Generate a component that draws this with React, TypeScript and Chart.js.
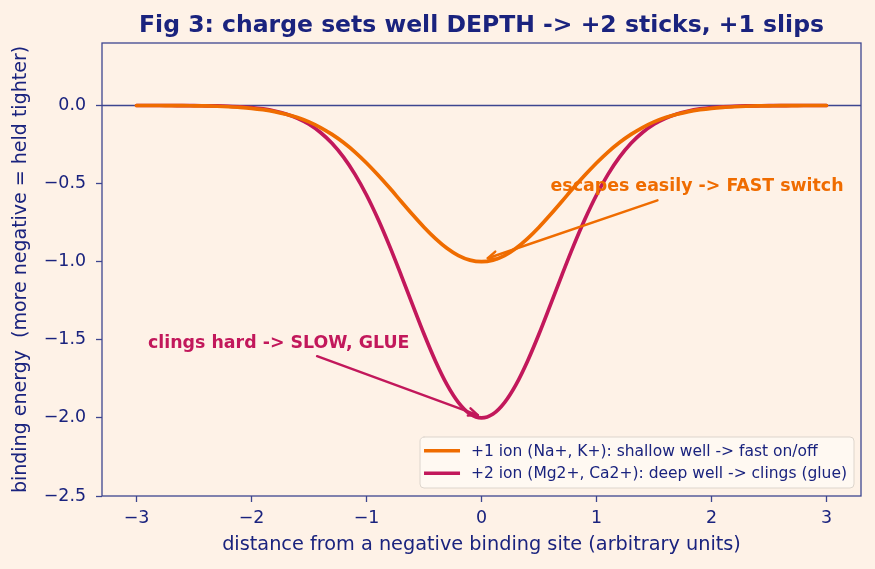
import React, { useEffect, useRef } from "react";
import { Chart, registerables } from "chart.js";

Chart.register(...registerables);

// ---- data ----
const xPositions = [
  -3.0, -2.9, -2.8, -2.7, -2.6, -2.5, -2.4, -2.3, -2.2, -2.1, -2.0, -1.9, -1.8, -1.7, -1.6, -1.5,
  -1.4, -1.3, -1.2, -1.1, -1.0, -0.9, -0.8, -0.7, -0.6, -0.5, -0.4, -0.3, -0.2, -0.1, 0.0,
  0.1, 0.2, 0.3, 0.4, 0.5, 0.6, 0.7, 0.8, 0.9, 1.0, 1.1, 1.2, 1.3, 1.4, 1.5,
  1.6, 1.7, 1.8, 1.9, 2.0, 2.1, 2.2, 2.3, 2.4, 2.5, 2.6, 2.7, 2.8, 2.9, 3.0,
];
const plusOneEnergy = [
  0.0, 0.0, 0.0, -0.001, -0.001, -0.002, -0.003, -0.005, -0.008, -0.012, -0.018, -0.027, -0.039, -0.056, -0.077, -0.105,
  -0.141, -0.185, -0.237, -0.298, -0.368, -0.445, -0.527, -0.613, -0.698, -0.779, -0.852, -0.914, -0.961, -0.99, -1.0,
  -0.99, -0.961, -0.914, -0.852, -0.779, -0.698, -0.613, -0.527, -0.445, -0.368, -0.298, -0.237, -0.185, -0.141, -0.105,
  -0.077, -0.056, -0.039, -0.027, -0.018, -0.012, -0.008, -0.005, -0.003, -0.002, -0.001, -0.001, 0.0, 0.0, 0.0,
];
const plusTwoEnergy = [
  0.0, 0.0, 0.0, 0.0, -0.001, -0.001, -0.002, -0.003, -0.005, -0.008, -0.013, -0.022, -0.035, -0.054, -0.082, -0.12,
  -0.173, -0.242, -0.331, -0.441, -0.573, -0.727, -0.899, -1.084, -1.275, -1.463, -1.637, -1.787, -1.902, -1.975, -2.0,
  -1.975, -1.902, -1.787, -1.637, -1.463, -1.275, -1.084, -0.899, -0.727, -0.573, -0.441, -0.331, -0.242, -0.173, -0.12,
  -0.082, -0.054, -0.035, -0.022, -0.013, -0.008, -0.005, -0.003, -0.002, -0.001, -0.001, 0.0, 0.0, 0.0, 0.0,
];
const seriesLabels = [
  "+1 ion (Na+, K+): shallow well -> fast on/off",
  "+2 ion (Mg2+, Ca2+): deep well -> clings (glue)",
];
const xTickValues = [-3, -2, -1, 0, 1, 2, 3];
const yTickValues = [-2.5, -2.0, -1.5, -1.0, -0.5, 0.0];
const titleText = "Fig 3: charge sets well DEPTH -> +2 sticks, +1 slips";
const xAxisLabel = "distance from a negative binding site (arbitrary units)";
const yAxisLabel = "binding energy  (more negative = held tighter)";
const noteTexts = ["escapes easily -> FAST switch", "clings hard -> SLOW, GLUE"];
const noteTextAt = [
  [0.6, -0.55],
  [-2.9, -1.55],
];
const noteArrowFrom = [
  [1.53, -0.607],
  [-1.43, -1.605],
];
const noteArrowTo = [
  [0.055, -0.978],
  [-0.032, -1.982],
];

// ---- styles ----
const BG = "#fef2e7";
const NAVY = "#1a237e";
const SPINE = "#3d4690";
const ORANGE = "#ef6c00";
const CRIMSON = "#c2185b";
const FONT = "'DejaVu Sans', sans-serif";
const seriesColors = [ORANGE, CRIMSON];

const fmtMinus = (s: string) => s.replace("-", "\u2212");

const decorPlugin = {
  id: "decor",
  beforeDatasetsDraw(chart: any) {
    const { ctx, chartArea, scales } = chart;
    const y0 = scales.y.getPixelForValue(0);
    ctx.save();
    ctx.strokeStyle = SPINE;
    ctx.lineWidth = 1.3;
    ctx.beginPath();
    ctx.moveTo(chartArea.left, y0);
    ctx.lineTo(chartArea.right, y0);
    ctx.stroke();
    ctx.restore();
  },
  afterDatasetsDraw(chart: any) {
    const { ctx, chartArea, scales } = chart;
    const xs = scales.x;
    const ys = scales.y;
    ctx.save();
    // frame
    ctx.strokeStyle = SPINE;
    ctx.lineWidth = 1.3;
    ctx.strokeRect(chartArea.left, chartArea.top, chartArea.right - chartArea.left, chartArea.bottom - chartArea.top);

    // title
    ctx.fillStyle = NAVY;
    ctx.font = `bold 23.5px ${FONT}`;
    ctx.textAlign = "center";
    ctx.textBaseline = "alphabetic";
    ctx.fillText(titleText, (chartArea.left + chartArea.right) / 2, 31.5);

    // annotations
    noteTexts.forEach((t, i) => {
      const col = seriesColors[i];
      const fx = xs.getPixelForValue(noteArrowFrom[i][0]);
      const fy = ys.getPixelForValue(noteArrowFrom[i][1]);
      const tx = xs.getPixelForValue(noteArrowTo[i][0]);
      const ty = ys.getPixelForValue(noteArrowTo[i][1]);
      ctx.strokeStyle = col;
      ctx.lineWidth = 2.4;
      ctx.lineCap = "round";
      ctx.lineJoin = "round";
      ctx.beginPath();
      ctx.moveTo(fx, fy);
      ctx.lineTo(tx, ty);
      ctx.stroke();
      const ang = Math.atan2(ty - fy, tx - fx);
      const hl = 10;
      const spread = 0.4;
      ctx.beginPath();
      ctx.moveTo(tx - hl * Math.cos(ang - spread), ty - hl * Math.sin(ang - spread));
      ctx.lineTo(tx, ty);
      ctx.lineTo(tx - hl * Math.cos(ang + spread), ty - hl * Math.sin(ang + spread));
      ctx.stroke();

      ctx.fillStyle = col;
      ctx.font = `bold 17.4px ${FONT}`;
      ctx.textAlign = "left";
      ctx.textBaseline = "alphabetic";
      ctx.fillText(t, xs.getPixelForValue(noteTextAt[i][0]), ys.getPixelForValue(noteTextAt[i][1]));
    });

    // legend (lower right, inside the axes)
    ctx.font = `15.5px ${FONT}`;
    const labels = chart.data.datasets.map((d: any) => d.label);
    const maxW = Math.max(...labels.map((l: string) => ctx.measureText(l).width));
    const boxW = 4 + 36 + 11 + maxW + 7;
    const boxH = 51;
    const bx = chartArea.right - 7 - boxW;
    const by = chartArea.bottom - 8 - boxH;
    ctx.fillStyle = "rgba(255,250,245,0.8)";
    ctx.strokeStyle = "#ddd5cc";
    ctx.lineWidth = 1;
    ctx.beginPath();
    (ctx as any).roundRect(bx, by, boxW, boxH, 4);
    ctx.fill();
    ctx.stroke();
    chart.data.datasets.forEach((d: any, i: number) => {
      const cy = by + 13.7 + i * 22.6;
      ctx.strokeStyle = d.borderColor;
      ctx.lineWidth = 3.6;
      ctx.lineCap = "butt";
      ctx.beginPath();
      ctx.moveTo(bx + 4, cy);
      ctx.lineTo(bx + 40, cy);
      ctx.stroke();
      ctx.fillStyle = NAVY;
      ctx.textAlign = "left";
      ctx.textBaseline = "middle";
      ctx.fillText(d.label, bx + 51, cy + 1);
    });
    ctx.restore();
  },
};

export default function App() {
  const canvasRef = useRef<HTMLCanvasElement | null>(null);

  useEffect(() => {
    if (!canvasRef.current) return;
    const seriesValues = [plusOneEnergy, plusTwoEnergy];
    const chart = new Chart(canvasRef.current, {
      type: "line",
      data: {
        datasets: seriesValues.map((vals, i) => ({
          label: seriesLabels[i],
          data: xPositions.map((x, j) => ({ x, y: vals[j] })),
          borderColor: seriesColors[i],
          backgroundColor: seriesColors[i],
          borderWidth: 3.7,
          pointRadius: 0,
          cubicInterpolationMode: "monotone" as const,
          borderCapStyle: "round" as const,
          borderJoinStyle: "round" as const,
          fill: false,
        })),
      },
      options: {
        animation: false,
        responsive: true,
        maintainAspectRatio: false,
        layout: { padding: { left: 0, right: 14, top: 43, bottom: 0 } },
        plugins: {
          legend: { display: false },
          title: { display: false },
          tooltip: { enabled: false },
        },
        scales: {
          x: {
            type: "linear",
            min: -3.3,
            max: 3.3,
            afterBuildTicks: (s: any) => {
              s.ticks = xTickValues.map((v) => ({ value: v }));
            },
            afterFit: (s: any) => {
              s.height = 73;
            },
            ticks: {
              autoSkip: false,
              maxRotation: 0,
              color: NAVY,
              padding: 6,
              font: { family: FONT, size: 17.4 },
              callback: (v: any) => fmtMinus(String(Math.round(Number(v)))),
            },
            grid: {
              drawOnChartArea: false,
              drawTicks: true,
              tickLength: 6,
              tickColor: SPINE,
              tickWidth: 1.3,
              color: SPINE,
            },
            border: { display: false },
            title: {
              display: true,
              text: xAxisLabel,
              color: NAVY,
              font: { family: FONT, size: 19.3 },
              padding: { top: 0, bottom: 12 },
            },
          },
          y: {
            type: "linear",
            min: -2.5,
            max: 0.4,
            afterBuildTicks: (s: any) => {
              s.ticks = yTickValues.map((v) => ({ value: v }));
            },
            afterFit: (s: any) => {
              s.width = 102;
            },
            ticks: {
              autoSkip: false,
              color: NAVY,
              padding: 10,
              font: { family: FONT, size: 17.4 },
              callback: (v: any) => fmtMinus(Number(v).toFixed(1)),
            },
            grid: {
              drawOnChartArea: false,
              drawTicks: true,
              tickLength: 6,
              tickColor: SPINE,
              tickWidth: 1.3,
              color: SPINE,
            },
            border: { display: false },
            title: {
              display: true,
              text: yAxisLabel,
              color: NAVY,
              font: { family: FONT, size: 19 },
              padding: { top: 10, bottom: 0 },
            },
          },
        },
      },
      plugins: [decorPlugin],
    });
    return () => chart.destroy();
  }, []);

  return (
    <div
      style={{
        position: "fixed",
        left: 0,
        top: 0,
        width: 875,
        height: 569,
        background: BG,
      }}
    >
      <canvas ref={canvasRef} />
    </div>
  );
}
